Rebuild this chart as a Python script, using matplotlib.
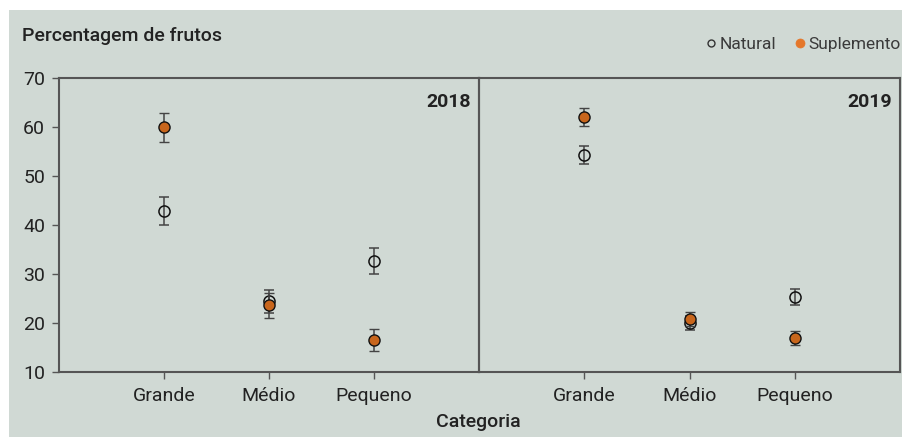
import matplotlib
matplotlib.use("Agg")
import matplotlib.pyplot as plt
from matplotlib.lines import Line2D
from matplotlib.patches import Rectangle
import numpy as np

categories = ["Grande", "Médio", "Pequeno"]
years = ["2018", "2019"]

# mean and error (half-width)
natural = {"2018": [42.8, 24.4, 32.6], "2019": [54.3, 20.0, 25.3]}
natural_err = {"2018": [2.9, 2.4, 2.7], "2019": [1.9, 1.5, 1.7]}
suplemento = {"2018": [59.9, 23.6, 16.5], "2019": [62.1, 20.8, 16.9]}
suplemento_err = {"2018": [2.95, 2.6, 2.25], "2019": [1.85, 1.4, 1.45]}

bg = "#d0d9d4"
orange = "#c8661c"
spine_col = "#555555"
txt_col = "#222222"

plt.rcParams["font.family"] = ["Roboto", "DejaVu Sans"]

fig = plt.figure(figsize=(9.02, 4.37), dpi=100)
fig.patch.set_facecolor("white")
fig.patches.append(Rectangle((9 / 902, 0), 1, 427 / 437, transform=fig.transFigure,
                             facecolor=bg, edgecolor="none", zorder=-10))

W, H = 902, 437
panels = [(59, 479), (479, 900)]
top, bottom = 78, 372
x = np.arange(1, len(categories) + 1)

for i, year in enumerate(years):
    x0, x1 = panels[i]
    ax = fig.add_axes([x0 / W, 1 - bottom / H, (x1 - x0) / W, (bottom - top) / H])
    ax.set_facecolor("none")

    ax.errorbar(x, natural[year], yerr=natural_err[year], fmt="o", ms=8,
                mfc="none", mec="#111111", mew=1.1, ecolor="#444444",
                elinewidth=1.1, capsize=3.5, capthick=1.1, zorder=3)
    ax.errorbar(x, suplemento[year], yerr=suplemento_err[year], fmt="o", ms=8,
                mfc=orange, mec="#111111", mew=1.0, ecolor="#444444",
                elinewidth=1.1, capsize=3.5, capthick=1.1, zorder=4)

    ax.set_xlim(0, 4)
    ax.set_ylim(10, 70)
    ax.set_xticks(x)
    ax.set_xticklabels(categories)
    ax.tick_params(axis="x", length=5, width=1, color=spine_col, pad=6,
                   labelsize=14, labelcolor=txt_col)
    if i == 0:
        ax.set_yticks(np.arange(10, 71, 10))
        ax.tick_params(axis="y", length=5, width=1, color=spine_col, pad=5,
                       labelsize=14, labelcolor=txt_col)
    else:
        ax.set_yticks([])

    for s in ax.spines.values():
        s.set_color(spine_col)
        s.set_linewidth(1.5)

    ax.text(0.98, 0.92, year, transform=ax.transAxes, ha="right", va="center",
            fontsize=14, fontweight="bold", color=txt_col)

fig.text(22 / W, 1 - 41 / H, "Percentagem de frutos", ha="left", va="baseline",
         fontsize=14, fontweight="medium", color=txt_col)
fig.text(478 / W, 1 - 422 / H, "Categoria", ha="center", va="center",
         fontsize=14, fontweight="medium", color=txt_col)

handles = [
    Line2D([], [], ls="none", marker="o", ms=5, mfc="none", mec="#333333", mew=1),
    Line2D([], [], ls="none", marker="o", ms=6.5, mfc="#e5772a", mec="#e5772a", mew=0.5),
]
fig.legend(handles, ["Natural", "Suplemento"], ncol=2, loc="center right",
           bbox_to_anchor=(0.999, 1 - 44 / H), frameon=False, fontsize=12.5,
           handletextpad=0.15, columnspacing=1.0, handlelength=0.7,
           borderaxespad=0, borderpad=0, labelcolor="#3a3a3a")

fig.savefig("out.png", dpi=100)
